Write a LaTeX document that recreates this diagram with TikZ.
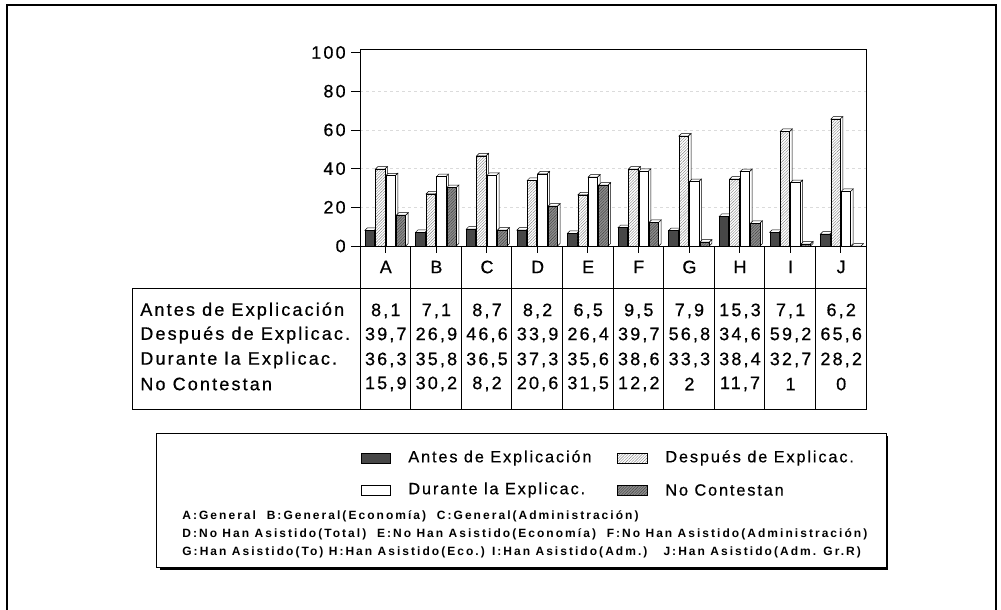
\documentclass[tikz,border=0pt]{standalone}
\usepackage{fontspec}
\setmainfont{Liberation Sans}
\newfontfamily\tabfont[LetterSpace=12,FakeBold=0.6]{Liberation Sans}
\newfontfamily\legfont[LetterSpace=11.5,FakeBold=0.5]{Liberation Sans}
\newfontfamily\notefont[LetterSpace=17]{Liberation Sans Bold}
\usetikzlibrary{patterns.meta}
\newcommand\drawbar[3]{%
  \pgfmathsetmacro\bx{#1}%
  \pgfmathsetmacro\bt{246-#2*1.935}%
  \draw[face] (\bx,\bt) -- ++(2.5,-2.5) -- ++(9.5,0) -- ++(-2.5,2.5) -- cycle;
  \draw[face] (\bx+9.5,\bt) -- ++(2.5,-2.5) -- (\bx+12,243.5) -- (\bx+9.5,246) -- cycle;
  \draw[#3] (\bx,246) rectangle (\bx+9.5,\bt);
}
\begin{document}
\begin{tikzpicture}[x=1pt,y=-1pt,line width=0.7pt,
  antes/.style={fill=black!72,draw=black,line width=0.6pt},
  despues/.style={draw=black,line width=0.6pt,preaction={fill=white},pattern={Lines[angle=45,distance=2pt,line width=0.4pt]},pattern color=black!50},
  durante/.style={fill=white,draw=black,line width=0.6pt},
  nocont/.style={draw=black,line width=0.6pt,preaction={fill=black!45},pattern={Lines[angle=45,distance=2pt,line width=0.4pt]},pattern color=black!75},
  face/.style={fill=white,draw=black,line width=0.5pt},
  tabtxt/.style={font=\tabfont\fontsize{18}{21}\selectfont,inner sep=0pt},
  legtxt/.style={font=\legfont\fontsize{16.3}{19}\selectfont,inner sep=0pt,anchor=west},
  notetxt/.style={font=\notefont\fontsize{12}{14}\selectfont,inner sep=0pt,anchor=west},
  grid/.style={black!14,dashed,line width=0.5pt}]
\useasboundingbox (0,0) rectangle (1001,610);
\fill[white] (0,0) rectangle (1001,610);
% outer frame
\draw[line width=1.2pt] (7,615) -- (7,5) -- (996,5) -- (996,615);
% grid lines
\foreach \v in {20,40,60,80} {
  \draw[grid] (360,{246-\v*1.935}) -- (866,{246-\v*1.935});
}
% plot frame
\draw (360,246) -- (360,49) -- (866,49) -- (866,246);
\draw (360,246) -- (866,246);
% y ticks and labels
\foreach \v [count=\k] in {0,20,40,60,80,100} {
  \draw (351,{246-\v*1.935}) -- (360,{246-\v*1.935});
  \node[tabtxt,anchor=east] (y\k) at (346,{246-\v*1.935}) {\v};
}
% bars and table values
\foreach \c/\a/\as/\b/\bs/\d/\ds/\n/\ns [count=\i from 0] in {
  A/8.1/{8,1}/39.7/{39,7}/36.3/{36,3}/15.9/{15,9},
  B/7.1/{7,1}/26.9/{26,9}/35.8/{35,8}/30.2/{30,2},
  C/8.7/{8,7}/46.6/{46,6}/36.5/{36,5}/8.2/{8,2},
  D/8.2/{8,2}/33.9/{33,9}/37.3/{37,3}/20.6/{20,6},
  E/6.5/{6,5}/26.4/{26,4}/35.6/{35,6}/31.5/{31,5},
  F/9.5/{9,5}/39.7/{39,7}/38.6/{38,6}/12.2/{12,2},
  G/7.9/{7,9}/56.8/{56,8}/33.3/{33,3}/2/2,
  H/15.3/{15,3}/34.6/{34,6}/38.4/{38,4}/11.7/{11,7},
  I/7.1/{7,1}/59.2/{59,2}/32.7/{32,7}/1/1,
  J/6.2/{6,2}/65.6/{65,6}/28.2/{28,2}/0/0} {
  \pgfmathsetmacro\cl{360+50.6*\i}
  \drawbar{\cl+5}{\a}{antes}
  \drawbar{\cl+15.4}{\b}{despues}
  \drawbar{\cl+25.8}{\d}{durante}
  \drawbar{\cl+36.2}{\n}{nocont}
  \draw (\cl+25.3,246) -- (\cl+25.3,253);
  \node[tabtxt] (cat\c) at (\cl+25.8,267) {\c};
  \node[tabtxt] (v1\c) at (\cl+25.8,311) {\as};
  \node[tabtxt] (v2\c) at (\cl+25.8,335) {\bs};
  \node[tabtxt] (v3\c) at (\cl+25.8,360) {\ds};
  \node[tabtxt] (v4\c) at (\cl+25.8,384) {\ns};
}
% table lines
\draw (132,288) rectangle (866,409);
\foreach \i in {0,...,10} {
  \draw ({360+50.6*\i},246) -- ({360+50.6*\i},409);
}
% row labels
\node[tabtxt,anchor=west] (r1) at (140,311) {Antes de Explicación};
\node[tabtxt,anchor=west] (r2) at (140,335) {Después de Explicac.};
\node[tabtxt,anchor=west] (r3) at (140,360) {Durante la Explicac.};
\node[tabtxt,anchor=west] (r4) at (140,384) {No Contestan};
% legend box
\draw[line width=0.7pt] (156,433) rectangle (886,567);
\draw[line width=2.6pt] (887,436) -- (887,568.5) -- (160,568.5);
% legend swatches
\draw[antes] (361,453) rectangle (390,463);
\draw[despues] (617,453) rectangle (647,463);
\draw[durante] (361,485) rectangle (390,495);
\draw[nocont] (617,485) rectangle (647,495);
\node[legtxt] (l1) at (408,458) {Antes de Explicación};
\node[legtxt] (l2) at (665,458) {Después de Explicac.};
\node[legtxt] (l3) at (408,490) {Durante la Explicac.};
\node[legtxt] (l4) at (665,490) {No Contestan};
% notes
\node[notetxt] (n1) at (182,516) {A:General\ \ B:General(Economía)\ \ C:General(Administración)};
\node[notetxt] (n2) at (182,534) {D:No Han Asistido(Total)\ \ E:No Han Asistido(Economía)\ \ F:No Han Asistido(Administración)};
\node[notetxt] (n3) at (182,552) {G:Han Asistido(To) H:Han Asistido(Eco.) I:Han Asistido(Adm.)\ \ \ J:Han Asistido(Adm. Gr.R)};
\end{tikzpicture}
\end{document}
